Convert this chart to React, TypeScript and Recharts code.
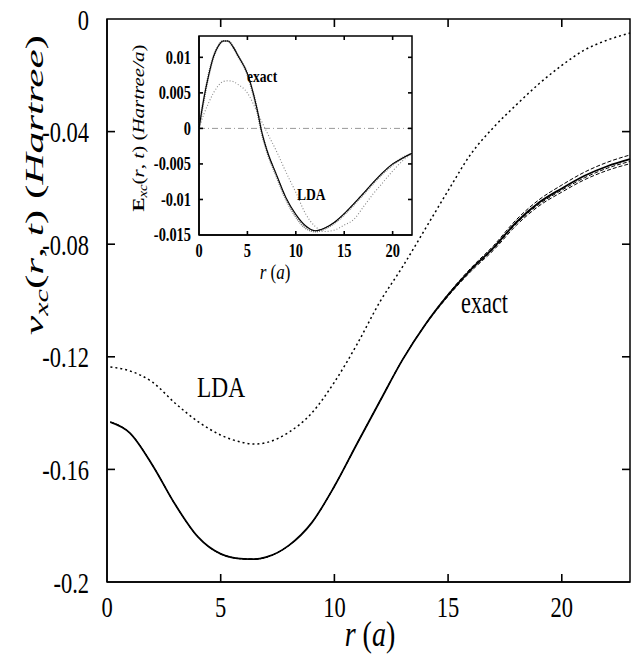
import { ComposedChart, Line, Scatter, XAxis, YAxis, ReferenceLine, ReferenceArea } from 'recharts';

// main plot: v_xc(r,t) in Hartree against r in a
const mainR = [0.15, 1, 2, 3, 4, 5, 6, 6.5, 7, 8, 9, 10, 11, 12, 13, 14, 15, 16, 17, 18, 19, 20, 21, 22, 23];
const exact = [-0.1432, -0.147, -0.1585, -0.1725, -0.184, -0.19, -0.1918, -0.1919, -0.1912, -0.187, -0.179, -0.166, -0.1508, -0.1358, -0.121, -0.1085, -0.098, -0.089, -0.0812, -0.0722, -0.0652, -0.0602, -0.0557, -0.0523, -0.0498];
const exactHi = [-0.1432, -0.147, -0.1585, -0.1725, -0.184, -0.19, -0.1918, -0.1919, -0.1912, -0.187, -0.179, -0.166, -0.1508, -0.1358, -0.121, -0.1084, -0.0977, -0.0885, -0.0805, -0.0713, -0.0642, -0.059, -0.0544, -0.0509, -0.0483];
const exactMid = [-0.1432, -0.147, -0.1585, -0.1725, -0.184, -0.19, -0.1918, -0.1919, -0.1912, -0.187, -0.179, -0.166, -0.1508, -0.1358, -0.121, -0.1086, -0.0982, -0.0893, -0.0816, -0.0727, -0.0658, -0.0608, -0.0564, -0.053, -0.0506];
const exactLo = [-0.1432, -0.147, -0.1585, -0.1725, -0.184, -0.19, -0.1918, -0.1919, -0.1912, -0.187, -0.179, -0.166, -0.1508, -0.1358, -0.121, -0.1087, -0.0985, -0.0897, -0.0821, -0.0733, -0.0664, -0.0615, -0.0571, -0.0538, -0.0514];
const lda = [-0.1236, -0.125, -0.129, -0.1365, -0.143, -0.1478, -0.1505, -0.151, -0.1505, -0.1468, -0.14, -0.129, -0.1155, -0.1005, -0.088, -0.0745, -0.061, -0.048, -0.0385, -0.0305, -0.023, -0.0165, -0.011, -0.0075, -0.005];
const mainXTicks = [0, 5, 10, 15, 20];
const mainYTicks = [0, -0.04, -0.08, -0.12, -0.16, -0.2];

// inset: E_xc(r,t) in Hartree/a
const insetR = [0, 0.5, 1, 1.5, 2, 2.5, 3, 3.5, 4, 5, 6, 6.5, 7, 8, 9, 10, 11, 12, 13, 14, 15, 16, 17, 18, 19, 20, 21, 22];
const insetExact = [0, 0.0042, 0.0075, 0.0101, 0.0116, 0.0123, 0.0123, 0.0115, 0.0103, 0.0077, 0.0027, -0.0006, -0.003, -0.0065, -0.0098, -0.0121, -0.0137, -0.0144, -0.014, -0.0132, -0.012, -0.0106, -0.0091, -0.0076, -0.0062, -0.005, -0.0042, -0.0035];
const insetExact2 = [0, 0.0041, 0.0075, 0.0101, 0.0116, 0.0123, 0.0123, 0.0115, 0.0103, 0.0076, 0.0026, -0.0007, -0.0031, -0.0067, -0.01, -0.0124, -0.014, -0.0145, -0.0141, -0.0133, -0.0121, -0.0107, -0.0092, -0.0077, -0.0063, -0.0051, -0.0042, -0.0035];
const insetLda = [0, 0.002, 0.0036, 0.005, 0.006, 0.0066, 0.0067, 0.0066, 0.0062, 0.005, 0.0023, 0.0009, -0.0005, -0.0032, -0.0062, -0.009, -0.012, -0.0138, -0.0145, -0.0143, -0.0136, -0.0128, -0.011, -0.0092, -0.0076, -0.006, -0.0046, -0.0035];
const insetXTicks = [0, 5, 10, 15, 20];
const insetYTicks = [0.01, 0.005, 0, -0.005, -0.01, -0.015];

const mainRows = mainR.map((r, i) => ({ r, exact: exact[i], exactHi: exactHi[i], exactMid: exactMid[i], exactLo: exactLo[i], lda: lda[i] }));
const insetRows = insetR.map((r, i) => ({ r, exact: insetExact[i], exact2: insetExact2[i], lda: insetLda[i] }));

const SERIF = '"Liberation Serif"';

// tick positions on the frame, as points the scatter layer turns into short inward marks
type TickPt = { r: number; v: number; side: string };
const tickPoints = (xt: number[], yt: number[], xd: number[], yd: number[]): TickPt[] => [
  ...xt.filter((t) => t > xd[0] && t < xd[1]).flatMap((t) => [{ r: t, v: yd[0], side: 'b' }, { r: t, v: yd[1], side: 't' }]),
  ...yt.filter((t) => t > yd[0] && t < yd[1]).flatMap((t) => [{ r: xd[0], v: t, side: 'l' }, { r: xd[1], v: t, side: 'r' }]),
];
const mainTickPts = tickPoints(mainXTicks, mainYTicks, [0, 23], [-0.2, 0]);
const insetTickPts = tickPoints(insetXTicks, insetYTicks, [0, 22], [-0.015, 0.013]);

const tickMark = (len: number) => (props: any) => {
  const { cx, cy, payload } = props;
  const s = payload.side;
  const dx = s === 'l' ? len : s === 'r' ? -len : 0;
  const dy = s === 'b' ? -len : s === 't' ? len : 0;
  return <path d={`M${cx},${cy}L${cx + dx},${cy + dy}`} stroke="#000" strokeWidth={1.6} fill="none" />;
};

const labelTick = (axis: 'x' | 'y', gap: number, size: number, sx: number, bold = false) => (props: any) => {
  const { x, y, payload } = props;
  const lx = axis === 'y' ? x - gap : x;
  const ly = axis === 'x' ? y + gap : y;
  return (
    <text transform={`translate(${lx},${ly}) scale(${sx},1)`} textAnchor={axis === 'y' ? 'end' : 'middle'}
      dy={axis === 'y' ? '0.35em' : '0'} fontFamily={SERIF} fontSize={size} fontWeight={bold ? 'bold' : 'normal'} fill="#000">
      {String(payload.value)}
    </text>
  );
};

const MainChart = () => (
  <ComposedChart width={633} height={667} data={mainRows} margin={{ top: 19, right: 3, bottom: 0, left: 0 }}>
    <XAxis dataKey="r" type="number" domain={[0, 23]} ticks={mainXTicks} height={85}
      tickSize={0} tickMargin={0} tickLine={false} axisLine={{ stroke: '#000', strokeWidth: 1.5 }} tick={labelTick('x', 35, 30, 0.75)} />
    <YAxis type="number" domain={[-0.2, 0]} ticks={mainYTicks} width={107}
      tickSize={0} tickMargin={0} tickLine={false} axisLine={{ stroke: '#000', strokeWidth: 1.5 }} tick={labelTick('y', 18, 30, 0.75)} />
    <ReferenceArea x1={0} x2={23} y1={-0.2} y2={0} fill="none" stroke="#000" strokeWidth={1.5} ifOverflow="visible" />
    <Scatter data={mainTickPts} dataKey="v" shape={tickMark(8)} isAnimationActive={false} />
    <Line type="monotone" dataKey="lda" stroke="#000" strokeWidth={1.5} strokeDasharray="2 3" dot={false} isAnimationActive={false} />
    <Line type="monotone" dataKey="exactHi" stroke="#000" strokeWidth={1} strokeDasharray="4 2" dot={false} isAnimationActive={false} />
    <Line type="monotone" dataKey="exactMid" stroke="#000" strokeWidth={1} strokeDasharray="4 2" dot={false} isAnimationActive={false} />
    <Line type="monotone" dataKey="exactLo" stroke="#000" strokeWidth={1} strokeDasharray="4 2" dot={false} isAnimationActive={false} />
    <Line type="monotone" dataKey="exact" stroke="#000" strokeWidth={1.8} dot={false} isAnimationActive={false} />
  </ComposedChart>
);

const InsetChart = () => (
  <ComposedChart width={300} height={275} data={insetRows} margin={{ top: 16, right: 8, bottom: 0, left: 0 }}>
    <XAxis dataKey="r" type="number" domain={[0, 22]} ticks={insetXTicks} height={60}
      tickSize={0} tickMargin={0} tickLine={false} axisLine={{ stroke: '#000', strokeWidth: 1.5 }} tick={labelTick('x', 22, 18, 0.8, true)} />
    <YAxis type="number" domain={[-0.015, 0.013]} ticks={insetYTicks} width={79}
      tickSize={0} tickMargin={0} tickLine={false} axisLine={{ stroke: '#000', strokeWidth: 1.5 }} tick={labelTick('y', 8, 18, 0.8, true)} />
    <ReferenceArea x1={0} x2={22} y1={-0.015} y2={0.013} fill="none" stroke="#000" strokeWidth={1.5} ifOverflow="visible" />
    <ReferenceLine y={0} stroke="#999" strokeDasharray="6 3 1 3" />
    <Scatter data={insetTickPts} dataKey="v" shape={tickMark(4)} isAnimationActive={false} />
    <Line type="monotone" dataKey="lda" stroke="#888" strokeWidth={1.1} strokeDasharray="1 2" dot={false} isAnimationActive={false} />
    <Line type="monotone" dataKey="exact2" stroke="#777" strokeWidth={2.2} strokeDasharray="1 1" dot={false} isAnimationActive={false} />
    <Line type="monotone" dataKey="exact" stroke="#000" strokeWidth={1.1} dot={false} isAnimationActive={false} />
  </ComposedChart>
);

const Labels = () => (
  <svg width={633} height={667} style={{ position: 'absolute', left: 0, top: 0, pointerEvents: 'none' }}>
    <text transform="translate(43,185) rotate(-90) scale(1,0.78)" textAnchor="middle" fontFamily={SERIF} fontSize={33} textLength={300} lengthAdjust="spacingAndGlyphs">
      <tspan fontStyle="italic">v</tspan>
      <tspan fontStyle="italic" fontSize={23} dy={7}>xc</tspan>
      <tspan dy={-7}>(</tspan>
      <tspan fontStyle="italic">r</tspan>
      <tspan>, </tspan>
      <tspan fontStyle="italic">t</tspan>
      <tspan>)  (</tspan>
      <tspan fontStyle="italic">Hartree</tspan>
      <tspan>)</tspan>
    </text>
    <text transform="translate(370,646) scale(0.78,1)" textAnchor="middle" fontFamily={SERIF} fontSize={36}>
      <tspan fontStyle="italic">r</tspan>
      <tspan>  (</tspan>
      <tspan fontStyle="italic">a</tspan>
      <tspan>)</tspan>
    </text>
    <text transform="translate(197,397) scale(0.78,1)" fontFamily={SERIF} fontSize={30}>LDA</text>
    <text transform="translate(461,313) scale(0.72,1)" fontFamily={SERIF} fontSize={31}>exact</text>

    <text transform="translate(247,82) scale(0.8,1)" fontFamily={SERIF} fontSize={17} fontWeight="bold">exact</text>
    <text transform="translate(297,200) scale(0.8,1)" fontFamily={SERIF} fontSize={17} fontWeight="bold">LDA</text>
    <text transform="translate(144,128) rotate(-90) scale(1,0.85)" textAnchor="middle" fontFamily={SERIF} fontSize={20} textLength={167} lengthAdjust="spacingAndGlyphs">
      <tspan fontWeight="bold">E</tspan>
      <tspan fontStyle="italic" fontSize={14} dy={4}>xc</tspan>
      <tspan dy={-4}>(</tspan>
      <tspan fontStyle="italic">r</tspan>
      <tspan>, </tspan>
      <tspan fontStyle="italic">t</tspan>
      <tspan>) (</tspan>
      <tspan fontStyle="italic">Hartree/a</tspan>
      <tspan>)</tspan>
    </text>
    <text transform="translate(275,279) scale(0.85,1)" textAnchor="middle" fontFamily={SERIF} fontSize={20}>
      <tspan fontStyle="italic">r</tspan>
      <tspan> (</tspan>
      <tspan fontStyle="italic">a</tspan>
      <tspan>)</tspan>
    </text>
  </svg>
);

export default function App() {
  return (
    <div style={{ position: 'absolute', left: 0, top: 0, width: 633, height: 667, background: '#fff' }}>
      <MainChart />
      <div style={{ position: 'absolute', left: 120, top: 20 }}>
        <InsetChart />
      </div>
      <Labels />
    </div>
  );
}
